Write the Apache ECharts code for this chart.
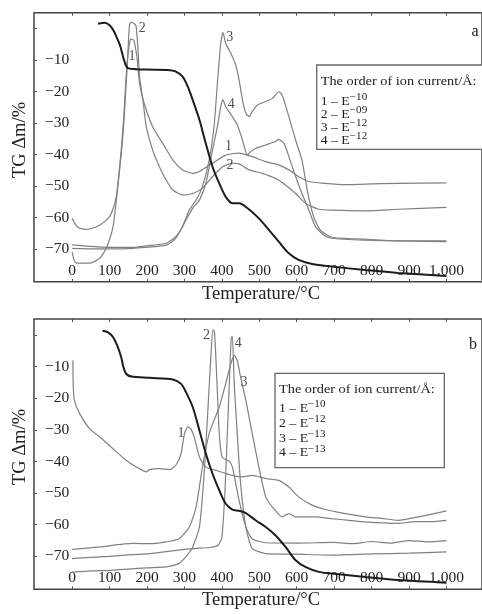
<!DOCTYPE html>
<html>
<head>
<meta charset="utf-8">
<script src="https://cdn.jsdelivr.net/npm/echarts@6/dist/echarts.min.js"></script>
<style>
  html, body { margin: 0; padding: 0; background: #fff; }
  #chart { width: 482px; height: 614px; }
</style>
</head>
<body>
<div id="chart"></div>
<script>
// Tick positions shared by both panels
const tempTicks = [0, 100, 200, 300, 400, 500, 600, 700, 800, 900, 1000];
const tgTicks = [-70, -60, -50, -40, -30, -20, -10, 0];
const tgLabelTicks = [-70, -60, -50, -40, -30, -20, -10];

// Panel a: TG curve and ion-current curves 1-4, [temperature °C, value]
const tgA = [[69,1.5],[87,1.8],[100,1.0],[110,-0.6],[118,-2.6],[124,-4.2],[129,-5.8],[136,-9],[143,-11.6],[149,-12.6],[165,-12.9],[180,-13],[220,-13.1],[251,-13.2],[277,-13.7],[295,-15.3],[309,-18.5],[322,-22.7],[340,-29],[357,-36.5],[375,-43.9],[393,-49.2],[410,-53.4],[428,-55.5],[446,-55.5],[468,-57],[499,-60.3],[526,-64],[552,-67.7],[579,-71.4],[605,-73.5],[641,-74.8],[694,-75.6],[783,-76.7],[871,-77.6],[1000,-78.6]];
const ionA1 = [[0,-60.3],[10,-62.5],[20,-63.4],[38,-63.8],[60,-63.2],[74,-62.4],[90,-61],[100,-59.7],[110,-57],[118,-53.4],[125,-46],[131,-38.6],[138,-28],[143,-17.4],[149,-8.4],[155,-3.7],[158,-3.4],[165,-3.8],[169,-6],[173,-9],[180,-17.4],[188,-22],[198,-25.9],[215,-31.2],[242,-36.5],[269,-41.8],[295,-44.9],[322,-46],[340,-45.4],[375,-42.8],[410,-40.2],[446,-39.6],[481,-40.7],[517,-42.3],[552,-43.3],[579,-44.9],[605,-47],[632,-48.6],[676,-49.2],[730,-49.6],[783,-49.4],[871,-49.2],[1000,-49]];
const ionA2 = [[0,-71],[5,-73.5],[12,-74.5],[47,-74.5],[74,-72.9],[91,-69.8],[109,-63],[122,-50.2],[136,-33.3],[147,-12.1],[153,1.1],[157,1.9],[167,1.4],[171,0.6],[176,-6.8],[180,-15.3],[189,-22.7],[198,-31.2],[215,-38.6],[233,-43.9],[251,-48.1],[269,-51.3],[295,-52.9],[322,-52.4],[348,-50.7],[375,-47],[402,-43.9],[428,-42.8],[446,-43],[473,-44.9],[508,-46],[543,-47.6],[570,-49.7],[597,-52.4],[623,-55.5],[659,-57.4],[694,-57.7],[783,-57.9],[871,-57.4],[1000,-56.8]];
const ionA3 = [[0,-68.7],[50,-69.2],[100,-69.5],[162,-69.5],[200,-69],[251,-68.2],[277,-66.1],[295,-62.9],[313,-57.6],[331,-54.5],[348,-50.2],[366,-41.8],[379,-31.2],[388,-17.4],[397,-4.7],[403,-1.3],[410,-4.7],[424,-7.9],[437,-11.6],[446,-16.4],[455,-22.7],[464,-26.9],[473,-28],[481,-26.4],[495,-24.3],[517,-23.2],[535,-22.2],[552,-20.1],[561,-21.1],[579,-28],[597,-35.4],[614,-41.8],[628,-51.3],[645,-59.7],[663,-64],[694,-66.3],[783,-66.9],[871,-67.4],[1000,-67.4]];
const ionA4 = [[0,-69.8],[100,-70],[162,-69.8],[251,-68.8],[277,-66.6],[304,-60.8],[322,-57.1],[340,-54.5],[357,-49.2],[375,-38.6],[388,-31.2],[397,-24.8],[403,-22.7],[410,-24.8],[428,-28],[441,-30.6],[455,-35.4],[468,-40.2],[477,-39.1],[490,-38.1],[517,-37],[543,-35.9],[552,-35.2],[566,-36.5],[579,-40.7],[597,-47],[614,-52.4],[632,-57.6],[650,-62.9],[672,-65.6],[694,-66.6],[800,-67.3],[1000,-67.7]];

// Panel b
const tgB = [[81,1.3],[96,0.8],[109,-0.7],[122,-3.9],[131,-7.1],[137,-10.2],[144,-12.3],[158,-13.2],[207,-13.6],[269,-14.1],[291,-15.5],[304,-18.1],[322,-22.8],[340,-30.2],[357,-37.5],[375,-43.9],[393,-49.1],[410,-53.3],[428,-55.2],[446,-55.6],[464,-56.3],[490,-58.6],[517,-60.7],[543,-63.3],[570,-67],[597,-71.2],[623,-73.3],[659,-74.9],[694,-75.4],[783,-76.5],[871,-77.5],[1000,-78.3]];
const ionB1 = [[2,-8],[3,-16.5],[6,-20.8],[20,-24.9],[47,-29.7],[74,-32.3],[109,-36],[144,-39.6],[180,-42.3],[198,-43.3],[207,-42.6],[233,-42.3],[260,-42.6],[277,-41.2],[291,-37.5],[300,-31.2],[309,-29.1],[317,-29.7],[326,-32.3],[340,-38.6],[357,-41.8],[384,-42.8],[428,-44.4],[455,-44.9],[481,-44.4],[517,-45.4],[552,-46],[579,-48.1],[605,-51.2],[641,-53.8],[676,-55.2],[730,-56.5],[783,-57.5],[827,-58],[871,-58.6],[925,-57.5],[1000,-55.6]];
const ionB2 = [[0,-75],[50,-74.6],[100,-74.4],[150,-74],[200,-73.6],[251,-73.3],[286,-72.2],[304,-70.1],[322,-67],[340,-60.7],[352,-45],[362,-25],[370,-8],[376,1.6],[380,1.2],[385,-10],[393,-31.2],[400,-38.5],[410,-39.5],[419,-39.8],[428,-41.7],[446,-52.3],[464,-60.7],[481,-64.4],[517,-65.7],[600,-65.8],[700,-65.6],[750,-66],[800,-65.3],[850,-65.8],[900,-65],[950,-65.4],[1000,-65]];
const ionB3 = [[0,-67.8],[74,-67],[162,-65.9],[207,-66],[251,-65.4],[286,-64.4],[313,-60.7],[331,-54.4],[348,-41.8],[366,-31.2],[379,-27],[393,-22.8],[410,-15.5],[424,-9.1],[433,-6.5],[441,-8.1],[450,-13.4],[464,-20.7],[481,-31.2],[499,-41.8],[517,-51.2],[535,-54.4],[561,-57.5],[579,-56.5],[597,-57.5],[650,-57.5],[694,-58.1],[740,-58.6],[783,-59.1],[827,-59.4],[871,-59.6],[915,-59],[960,-59],[1000,-58.6]];
const ionB4 = [[0,-70.7],[50,-70.3],[100,-70],[150,-69.5],[200,-69.2],[251,-68.5],[300,-67.8],[340,-67.4],[370,-67.2],[390,-66.5],[400,-64],[408,-50],[415,-30],[421,-12],[425,-1],[428,-0.5],[433,-15.5],[441,-31.2],[450,-47],[464,-60.7],[481,-67.5],[517,-69.1],[600,-69.3],[700,-69.6],[800,-69.2],[900,-69],[1000,-68.6]];

// Curve identifiers placed beside the curves, [temperature, value, text]
const tagsA = [[187,0,'2'],[160,-9,'1'],[421,-2.8,'3'],[425,-24.1,'4'],[418,-37.5,'1'],[422,-43.6,'2']];
const tagsB = [[359,-0.2,'2'],[444,-2.8,'4'],[459,-15,'3'],[291,-31,'1']];

// Legend entries: exponent of the ion current for curves 1-4
const expA = ['−10', '−09', '−12', '−12'];
const expB = ['−10', '−12', '−13', '−13'];

const SERIF = '"Liberation Serif", "DejaVu Serif", serif';
const INK = '#222';
const ION = '#808080';

const panels = [
  { top: 12.7, height: 269, tg: tgA, ion: [ionA1, ionA2, ionA3, ionA4], tags: tagsA },
  { top: 319, height: 270.3, tg: tgB, ion: [ionB1, ionB2, ionB3, ionB4], tags: tagsB }
];

const grid = [], xAxis = [], yAxis = [], series = [];
panels.forEach((p, i) => {
  grid.push({ left: 34, top: p.top, width: 450, height: p.height, show: true,
    borderColor: '#444', borderWidth: 1.5, backgroundColor: 'transparent' });
  const tickStyle = { show: true, inside: true, length: 3, customValues: tempTicks, lineStyle: { color: '#555', width: 1 } };
  xAxis.push({ gridIndex: i, type: 'value', min: -102, max: 1095, position: 'bottom',
    axisLine: { show: false, onZero: false }, splitLine: { show: false }, axisTick: tickStyle,
    axisLabel: { inside: true, margin: 3, customValues: tempTicks, fontFamily: SERIF, fontSize: 15.5, color: INK } });
  xAxis.push({ gridIndex: i, type: 'value', min: -102, max: 1095, position: 'top',
    axisLine: { show: false, onZero: false }, splitLine: { show: false }, axisTick: tickStyle,
    axisLabel: { show: false } });
  yAxis.push({ gridIndex: i, type: 'value', min: -80.4, max: 5, position: 'left',
    axisLine: { show: false, onZero: false }, splitLine: { show: false },
    axisTick: { show: true, inside: true, length: 3, customValues: tgTicks, lineStyle: { color: '#555', width: 1 } },
    axisLabel: { inside: true, margin: 11, customValues: tgLabelTicks, fontFamily: SERIF, fontSize: 15.5, color: INK,
      formatter: v => '−' + Math.abs(v) } });

  p.ion.forEach((d, k) => series.push({
    type: 'line', xAxisIndex: i * 2, yAxisIndex: i, data: d, showSymbol: false, smooth: 0.2,
    lineStyle: { color: ION, width: 1.2 }, z: 2, silent: true, name: 'ion' + (k + 1)
  }));
  series.push({
    type: 'line', xAxisIndex: i * 2, yAxisIndex: i, data: p.tg, showSymbol: false, smooth: 0.3,
    lineStyle: { color: '#1c1c1c', width: 2 }, z: 3, silent: true, name: 'TG'
  });
  series.push({
    type: 'scatter', xAxisIndex: i * 2, yAxisIndex: i, data: p.tags, symbolSize: 0, silent: true, z: 4,
    label: { show: true, position: 'inside', formatter: q => q.data[2], fontFamily: SERIF, fontSize: 14, color: INK }
  });
});

// Legend box drawn as a text block with superscript exponents
function legendBox(x, y, w, h, exps, titleY, rowY, rowGap) {
  const children = [
    { type: 'rect', shape: { x: x, y: y, width: w, height: h },
      style: { fill: '#fff', stroke: '#666', lineWidth: 1.3 } },
    { type: 'text', x: x + 4, y: titleY, scaleX: 1.06,
      style: { text: 'The order of ion current/Å:', font: '13.5px ' + SERIF, fill: INK, verticalAlign: 'middle' } }
  ];
  exps.forEach((e, k) => {
    children.push({ type: 'text', x: x + 4, y: rowY + k * rowGap, scaleX: 1.06,
      style: { text: '{n|' + (k + 1) + ' – E}{s|' + e + '}', fill: INK, verticalAlign: 'middle',
        rich: { n: { font: '13px ' + SERIF, verticalAlign: 'bottom', lineHeight: 16 },
                s: { font: '10.5px ' + SERIF, verticalAlign: 'top', lineHeight: 16 } } } });
  });
  return { type: 'group', children: children, z: 10 };
}

const graphic = [
  legendBox(316.7, 65, 180, 84.3, expA, 81.6, 100, 12.9),
  legendBox(275, 373.3, 169.3, 94.4, expB, 389, 407, 14.8),
  { type: 'text', x: 475, y: 31.7, style: { text: 'a', font: '16px ' + SERIF, fill: INK, align: 'center', verticalAlign: 'middle' } },
  { type: 'text', x: 473, y: 345, style: { text: 'b', font: '16px ' + SERIF, fill: INK, align: 'center', verticalAlign: 'middle' } },
  { type: 'text', x: 261, y: 294.5, style: { text: 'Temperature/°C', font: '18.5px ' + SERIF, fill: INK, align: 'center', verticalAlign: 'middle' } },
  { type: 'text', x: 261, y: 600.5, style: { text: 'Temperature/°C', font: '18.5px ' + SERIF, fill: INK, align: 'center', verticalAlign: 'middle' } },
  { type: 'text', x: 20, y: 140, rotation: Math.PI / 2, style: { text: 'TG Δm/%', font: '18.5px ' + SERIF, fill: INK, align: 'center', verticalAlign: 'middle' } },
  { type: 'text', x: 20, y: 447, rotation: Math.PI / 2, style: { text: 'TG Δm/%', font: '18.5px ' + SERIF, fill: INK, align: 'center', verticalAlign: 'middle' } }
];

const chart = echarts.init(document.getElementById('chart'), null, { renderer: 'canvas' });
chart.setOption({
  backgroundColor: '#fff',
  animation: false,
  grid: grid, xAxis: xAxis, yAxis: yAxis, series: series, graphic: graphic
});
</script>
</body>
</html>
